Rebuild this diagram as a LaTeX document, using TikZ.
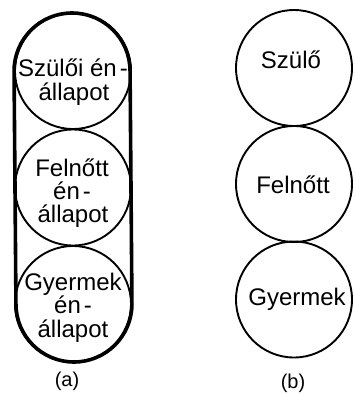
\documentclass[tikz,border=0pt]{standalone}
\usepackage{fontspec}
\setmainfont{Liberation Sans}
\begin{document}
\begin{tikzpicture}[x=1pt,y=-1pt,
  ring/.style={circle,draw=black,line width=1.9pt,minimum size=116pt,inner sep=0pt},
  word/.style={anchor=base,inner sep=0pt,font=\fontsize{24}{24}\selectfont},
  caption/.style={anchor=base,inner sep=0pt,font=\fontsize{20}{20}\selectfont}]
\useasboundingbox (0,0) rectangle (355,394);

% (a) three ego states inside one outline
\node[ring] (pa) at (73,71) {};
\node[ring] (aa) at (73,187.5) {};
\node[ring] (ca) at (73,304) {};
\draw[line width=3.6pt,line join=round]
  (pa.west) arc[start angle=180,end angle=0,radius=58pt]
  -- (ca.east) arc[start angle=0,end angle=-180,radius=58pt] -- cycle;

\node[word] (pa1) at (73,76) {Szülői én\hspace{3pt}-};
\node[word] (pa2) at (74,100) {állapot};
\node[word] (aa1) at (72,176) {Felnőtt};
\node[word] (aa2) at (72,199.5) {én\hspace{3pt}-};
\node[word] (aa3) at (73,222.5) {állapot};
\node[word] (ca1) at (73,290) {Gyermek};
\node[word] (ca2) at (73,313) {én\hspace{3pt}-};
\node[word] (ca3) at (73,337) {állapot};
\node[caption] (la) at (67,386) {(a)};

% (b) the simplified three circles
\node[ring] (pb) at (294,68) {};
\node[ring] (ab) at (294,184) {};
\node[ring] (cb) at (294,299.5) {};
\node[word] (pb1) at (291,68) {Szülő};
\node[word] (ab1) at (293,193) {Felnőtt};
\node[word] (cb1) at (297,305) {Gyermek};
\node[caption] (lb) at (293,388) {(b)};
\end{tikzpicture}
\end{document}
